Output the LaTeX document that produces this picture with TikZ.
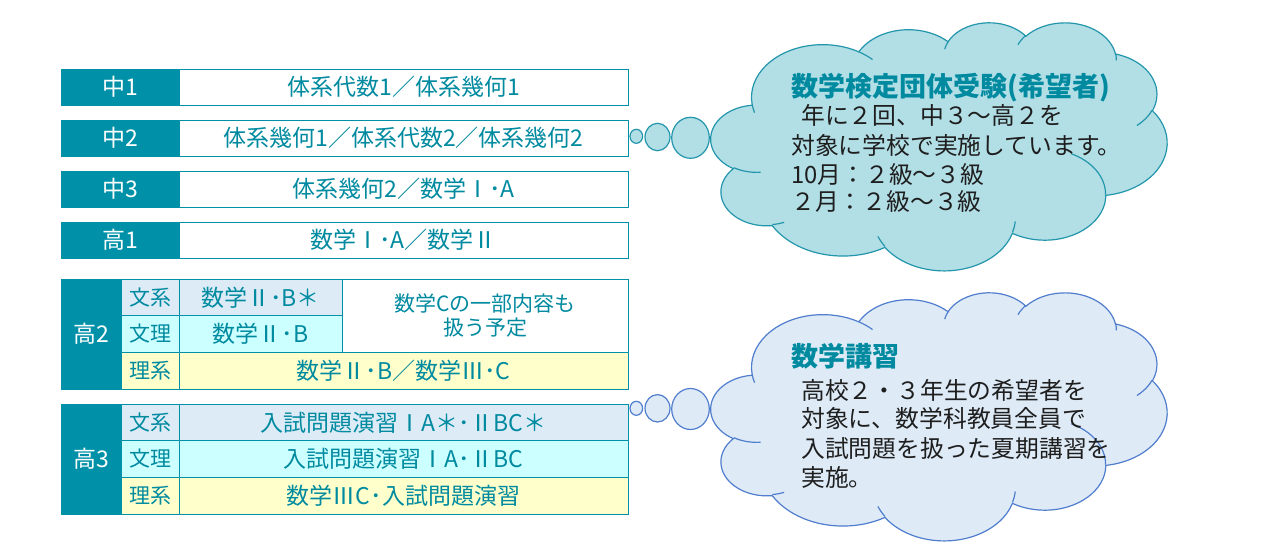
\documentclass[tikz,border=0pt]{standalone}
\usepackage{fontspec}
\setmainfont{Noto Sans CJK JP}
\definecolor{labfill}{RGB}{0,145,168}
\definecolor{tealtext}{RGB}{0,138,160}
\definecolor{bunkei}{RGB}{221,235,247}
\definecolor{bunri}{RGB}{204,255,255}
\definecolor{rikei}{RGB}{255,255,204}
\definecolor{cloudA}{RGB}{178,222,230}
\definecolor{cloudAline}{RGB}{35,150,172}
\definecolor{cloudB}{RGB}{222,235,247}
\definecolor{cloudBline}{RGB}{80,125,205}
\definecolor{bodytext}{RGB}{30,30,30}
% cloud geometry (PowerPoint-like cloud), units of 1000 in a 43.2 x 43.2 box
\newcommand\cldsx{10.5556}
\newcommand\cldsy{5.74074}
\newcommand\OOmove[2]{\pgfpathmoveto{\pgfpoint{#1*\cldsx pt}{#2*\cldsy pt}}}
\newcommand\OOarc[4]{%
  \pgfmathsetmacro\ooA{#3}%
  \pgfmathsetmacro\ooB{#3+#4}%
  \pgfmathsetmacro\ooTa{atan2(#1*sin(\ooA),#2*cos(\ooA))}%
  \pgfmathsetmacro\ooTb{atan2(#1*sin(\ooB),#2*cos(\ooB))}%
  \pgfmathsetmacro\ooD{\ooTb-\ooTa}%
  \pgfmathsetmacro\ooD{(#4>0)*((\ooD<0)*360+\ooD)+(#4<0)*(\ooD-(\ooD>0)*360)}%
  \pgfmathsetmacro\ooE{\ooTa+\ooD}%
  \pgfmathsetmacro\ooRx{#1*\cldsx}%
  \pgfmathsetmacro\ooRy{#2*\cldsy}%
  \pgfpatharc{\ooTa}{\ooE}{\ooRx pt and \ooRy pt}%
}
\newcommand\CloudOutline{%
 \OOmove{3.900}{14.370}%
 \OOarc{6.753}{9.190}{-190.48748}{123.78053}%
 \OOarc{5.333}{7.267}{-144.10238}{89.94523}%
 \OOarc{4.365}{5.945}{-145.80792}{99.72302}%
 \OOarc{4.857}{6.595}{-130.98607}{117.24173}%
 \OOarc{5.333}{7.273}{-78.70888}{109.02692}%
 \OOarc{6.775}{9.220}{-46.26725}{130.26900}%
 \OOarc{5.785}{7.867}{0.62502}{114.03333}%
 \OOarc{6.752}{9.215}{22.45160}{115.17255}%
 \OOarc{7.720}{10.543}{66.24263}{75.71102}%
 \OOarc{4.360}{5.918}{-274.94208}{146.73557}%
 \OOarc{4.345}{5.945}{-246.82850}{152.51885}%
 \pgfpathclose}
\newcommand\CloudInner{%
 \OOmove{4.693}{26.177}\OOarc{4.345}{5.945}{86.74200}{26.42950}%
 \OOmove{6.928}{34.899}\OOarc{4.360}{5.918}{73.61047}{11.44747}%
 \OOmove{16.478}{39.090}\OOarc{6.752}{9.215}{137.62415}{14.08110}%
 \OOmove{28.827}{34.751}\OOarc{6.752}{9.215}{6.45327}{15.99835}%
 \OOmove{34.129}{22.954}\OOarc{5.785}{7.867}{-70.29235}{70.91737}%
 \OOmove{41.798}{15.354}\OOarc{5.333}{7.273}{30.31803}{27.75150}%
 \OOmove{38.324}{5.426}\OOarc{4.857}{6.595}{-13.74433}{14.85890}%
 \OOmove{29.078}{3.952}\OOarc{4.857}{6.595}{-149.18145}{18.19537}%
 \OOmove{22.141}{4.720}\OOarc{4.365}{5.945}{-163.49427}{17.68635}%
 \OOmove{14.000}{5.192}\OOarc{6.753}{9.190}{-66.70695}{12.31935}%
 \OOmove{4.127}{15.789}\OOarc{6.753}{9.190}{157.65435}{11.85817}%
}
\begin{document}
\begin{tikzpicture}[x=1pt,y=-1pt,
  cellbase/.style={draw=labfill, line width=0.9pt, inner sep=0pt, outer sep=0pt,
    anchor=north west, text=tealtext, font=\fontsize{23}{27}\selectfont},
  labcell/.style={cellbase, fill=labfill, text=white},
  whitecell/.style={cellbase, fill=white},
  bkcell/.style={cellbase, fill=bunkei},
  brcell/.style={cellbase, fill=bunri},
  rkcell/.style={cellbase, fill=rikei},
  subcell/.style={font=\fontsize{21}{24}\selectfont},
  ctitle/.style={anchor=base west, inner sep=0pt, text=tealtext,
    font=\fontsize{27}{30}\selectfont\bfseries},
  cbody/.style={anchor=base west, inner sep=0pt, text=bodytext,
    font=\fontsize{23.8}{27}\selectfont},
  bubA/.style={fill=cloudA, draw=cloudAline, line width=1.2pt},
  bubB/.style={fill=cloudB, draw=cloudBline, line width=1.2pt}]
\useasboundingbox (0,0) rectangle (1280,548);
\fill[white] (0,0) rectangle (1280,548);

% ---- table: single rows
\node[labcell, minimum width=118, minimum height=36] (r1l) at (61,69) {中1};
\node[whitecell, minimum width=449, minimum height=36] (r1c) at (179,69) {体系代数1／体系幾何1};
\node[labcell, minimum width=118, minimum height=36] (r2l) at (61,120) {中2};
\node[whitecell, minimum width=449, minimum height=36] (r2c) at (179,120) {体系幾何1／体系代数2／体系幾何2};
\node[labcell, minimum width=118, minimum height=36] (r3l) at (61,171) {中3};
\node[whitecell, minimum width=449, minimum height=36] (r3c) at (179,171) {体系幾何2／数学Ⅰ･A};
\node[labcell, minimum width=118, minimum height=36] (r4l) at (61,222) {高1};
\node[whitecell, minimum width=449, minimum height=36] (r4c) at (179,222) {数学Ⅰ･A／数学Ⅱ};

% ---- 高2
\node[labcell, minimum width=60, minimum height=110] (h2l) at (61,279) {高2};
\node[bkcell, subcell, minimum width=58, minimum height=36.67] (h2a) at (121,279) {文系};
\node[bkcell, minimum width=163, minimum height=36.67] (h2ac) at (179,279) {数学Ⅱ･B＊};
\node[brcell, subcell, minimum width=58, minimum height=36.67] (h2b) at (121,315.67) {文理};
\node[brcell, minimum width=163, minimum height=36.67] (h2bc) at (179,315.67) {数学Ⅱ･B};
\node[whitecell, align=center, font=\fontsize{21}{24}\selectfont, minimum width=286, minimum height=73.33] (h2m) at (342,279) {数学Cの一部内容も\\扱う予定};
\node[rkcell, subcell, minimum width=58, minimum height=36.67] (h2c) at (121,352.33) {理系};
\node[rkcell, minimum width=449, minimum height=36.67] (h2cc) at (179,352.33) {数学Ⅱ･B／数学Ⅲ･C};

% ---- 高3
\node[labcell, minimum width=60, minimum height=110] (h3l) at (61,404) {高3};
\node[bkcell, subcell, minimum width=58, minimum height=36.67] (h3a) at (121,404) {文系};
\node[bkcell, minimum width=449, minimum height=36.67] (h3ac) at (179,404) {入試問題演習ⅠA＊･ⅡBC＊};
\node[brcell, subcell, minimum width=58, minimum height=36.67] (h3b) at (121,440.67) {文理};
\node[brcell, minimum width=449, minimum height=36.67] (h3bc) at (179,440.67) {入試問題演習ⅠA･ⅡBC};
\node[rkcell, subcell, minimum width=58, minimum height=36.67] (h3c) at (121,477.33) {理系};
\node[rkcell, minimum width=449, minimum height=36.67] (h3cc) at (179,477.33) {数学ⅢC･入試問題演習};

% ---- cloud 1
\draw[bubA] (636.3,136.3) ellipse[x radius=6.3pt, y radius=7pt];
\draw[bubA] (657.5,137) ellipse[x radius=12.5pt, y radius=13.7pt];
\draw[bubA] (690.5,137.8) ellipse[x radius=18.8pt, y radius=20.5pt];
\begin{scope}[shift={(711,22)}, yscale=-1]
  \pgfsetlinewidth{1.2pt}\pgfsetstrokecolor{cloudAline}\pgfsetfillcolor{cloudA}
  \CloudOutline\pgfusepath{fill,stroke}
  \CloudInner\pgfusepath{stroke}
\end{scope}
\node[ctitle] (k1t) at (791,97) {数学検定団体受験(希望者)};
\node[cbody] (k1a) at (801,125) {年に２回、中３～高２を};
\node[cbody] (k1b) at (791,155) {対象に学校で実施しています。};
\node[cbody] (k1c) at (791,184) {10月：２級～３級};
\node[cbody] (k1d) at (791,211) {２月：２級～３級};

% ---- cloud 2
\draw[bubB] (636.3,408.3) ellipse[x radius=6.3pt, y radius=7pt];
\draw[bubB] (657.5,408.3) ellipse[x radius=12.5pt, y radius=13.7pt];
\draw[bubB] (690.5,409) ellipse[x radius=18.8pt, y radius=20.5pt];
\begin{scope}[shift={(711,292)}, yscale=-1]
  \pgfsetlinewidth{1.2pt}\pgfsetstrokecolor{cloudBline}\pgfsetfillcolor{cloudB}
  \CloudOutline\pgfusepath{fill,stroke}
  \CloudInner\pgfusepath{stroke}
\end{scope}
\node[ctitle] (k2t) at (791,366) {数学講習};
\node[cbody] (k2a) at (801,399) {高校２・３年生の希望者を};
\node[cbody] (k2b) at (801,427) {対象に、数学科教員全員で};
\node[cbody] (k2c) at (801,457) {入試問題を扱った夏期講習を};
\node[cbody] (k2d) at (801,486) {実施。};
\end{tikzpicture}
\end{document}
